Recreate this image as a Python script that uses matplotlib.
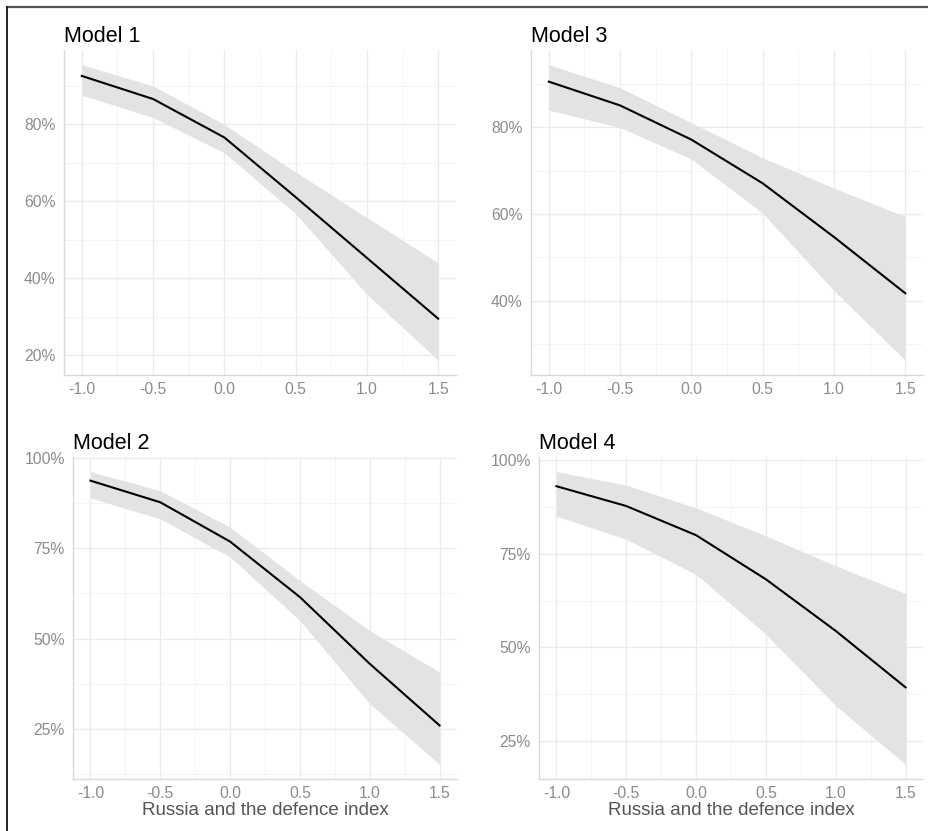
import matplotlib
matplotlib.use("Agg")
import matplotlib.pyplot as plt
from matplotlib.lines import Line2D
from matplotlib.ticker import FixedLocator, FuncFormatter

plt.rcParams['font.family'] = ['Liberation Sans', 'DejaVu Sans']

# x values: Russia and the defence index
x = [-1.0, -0.5, 0.0, 0.5, 1.0, 1.5]

# predicted probabilities (%) with confidence band
m1_fit = [92.6, 86.6, 76.6, 61.1, 45.3, 29.5]
m1_hi = [95.5, 90.0, 80.0, 67.6, 55.8, 44.0]
m1_lo = [87.6, 81.8, 72.6, 56.8, 35.8, 18.7]

m2_fit = [93.8, 87.8, 76.9, 61.5, 43.0, 25.9]
m2_hi = [96.3, 91.0, 80.9, 66.1, 52.2, 40.7]
m2_lo = [89.0, 83.2, 72.6, 55.0, 31.9, 15.1]

m3_fit = [90.6, 85.1, 77.2, 67.1, 54.7, 41.7]
m3_hi = [94.5, 89.2, 81.1, 73.0, 66.0, 59.4]
m3_lo = [84.0, 80.0, 72.7, 60.2, 42.3, 26.2]

m4_fit = [93.1, 87.8, 80.0, 68.2, 54.4, 39.3]
m4_hi = [97.0, 93.4, 87.3, 79.8, 71.8, 64.4]
m4_lo = [85.1, 78.9, 69.5, 53.5, 34.4, 18.7]

x_ticks = [-1.0, -0.5, 0.0, 0.5, 1.0, 1.5]
x_minor = [-0.75, -0.25, 0.25, 0.75, 1.25]
y_ticks_top = [20, 40, 60, 80]
y_minor_top = [30, 50, 70, 90]
y_ticks_top3 = [40, 60, 80]
y_ticks_bot = [25, 50, 75, 100]
y_minor_bot = [12.5, 37.5, 62.5, 87.5]

W, H = 929, 831
fig = plt.figure(figsize=(W / 100, H / 100), dpi=100)


def panel(left, right, top, bottom):
    return fig.add_axes([left / W, 1 - bottom / H, (right - left) / W, (bottom - top) / H])


def draw(ax, title, fit, lo, hi, yticks, yminor, xlabel):
    ax.fill_between(x, lo, hi, color="#e3e3e3", lw=0, zorder=2)
    ax.plot(x, fit, color="black", lw=1.5, zorder=3)
    span = max(hi) - min(lo)
    ax.set_ylim(min(lo) - 0.05 * span, max(hi) + 0.05 * span)
    ax.set_xlim(-1.125, 1.625)
    ax.xaxis.set_major_locator(FixedLocator(x_ticks))
    ax.xaxis.set_minor_locator(FixedLocator(x_minor))
    ax.yaxis.set_major_locator(FixedLocator(yticks))
    ax.yaxis.set_minor_locator(FixedLocator(yminor))
    ax.xaxis.set_major_formatter(FuncFormatter(lambda v, p: f"{v:.1f}"))
    ax.yaxis.set_major_formatter(FuncFormatter(lambda v, p: f"{v:.0f}%"))
    ax.grid(which="major", color="#ebebeb", lw=1.0, zorder=0)
    ax.grid(which="minor", color="#f4f4f4", lw=0.7, zorder=0)
    ax.set_axisbelow(True)
    for s in ["top", "right"]:
        ax.spines[s].set_visible(False)
    for s in ["left", "bottom"]:
        ax.spines[s].set_color("#d9d9d9")
        ax.spines[s].set_linewidth(1.0)
    ax.tick_params(which="both", length=0, labelsize=11.3, colors="#8c8c8c", pad=6)
    ax.tick_params(axis="x", pad=5)
    ax.set_title(title, loc="left", fontsize=15.5, color="black", pad=6)
    if xlabel:
        ax.set_xlabel("Russia and the defence index", fontsize=13.5, color="#555555", labelpad=1)


ax1 = panel(64, 456, 50, 375)
ax3 = panel(531, 923, 50, 375)
ax2 = panel(73, 457, 457, 779)
ax4 = panel(539, 923, 457, 779)

draw(ax1, "Model 1", m1_fit, m1_lo, m1_hi, y_ticks_top, y_minor_top, False)
draw(ax3, "Model 3", m3_fit, m3_lo, m3_hi, y_ticks_top3, y_minor_top, False)
draw(ax2, "Model 2", m2_fit, m2_lo, m2_hi, y_ticks_bot, y_minor_bot, True)
draw(ax4, "Model 4", m4_fit, m4_lo, m4_hi, y_ticks_bot, y_minor_bot, True)

# frame lines on the top and left edge of the image
fig.add_artist(Line2D([7 / W, 1], [1 - 7 / H, 1 - 7 / H], color="#555555", lw=1.6))
fig.add_artist(Line2D([7 / W, 7 / W], [0, 1 - 7 / H], color="#222222", lw=1.4))

fig.savefig("out.png", dpi=100)
